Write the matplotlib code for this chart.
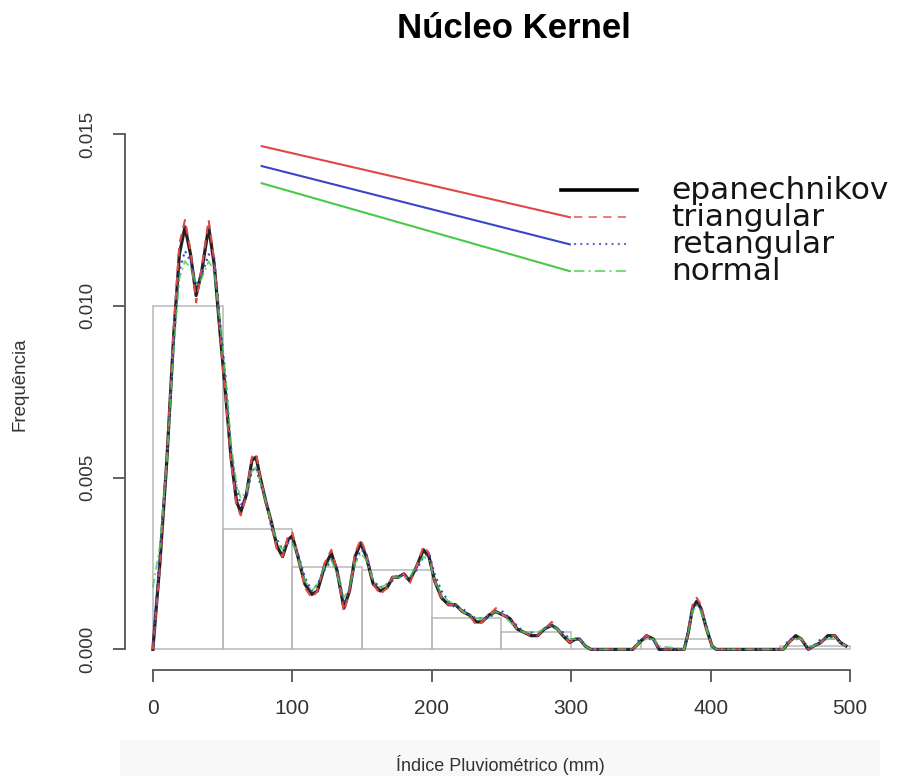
import numpy as np
import matplotlib
matplotlib.use('Agg')
import matplotlib.pyplot as plt
from matplotlib.patches import Rectangle

plt.rcParams['font.family'] = ['Liberation Sans', 'DejaVu Sans']

# histogram (density), bins of 50 mm
bin_edges = [0, 50, 100, 150, 200, 250, 300, 350, 400, 450, 500]
bin_density = [0.0100, 0.0035, 0.0024, 0.0023, 0.0009, 0.0005,
               0.0, 0.0003, 0.0, 0.0001]

# kernel density curves (values x 1e-4)
x_grid = [0, 5, 10, 15, 19, 23, 27, 31, 35, 40, 44, 48, 52, 56, 60, 63, 67,
          71, 74, 77, 81, 85, 89, 93, 97, 100, 104, 109, 114, 118, 123, 128,
          132, 137, 141, 145, 149, 153, 158, 163, 168, 172, 176, 180, 184,
          189, 194, 198, 202, 207, 212, 217, 222, 227, 232, 236, 241, 246,
          251, 256, 261, 266, 271, 276, 281, 286, 290, 294, 299, 303, 306,
          310, 314, 344, 349, 354, 359, 363, 381, 384, 387, 390, 393, 397,
          401, 404, 452, 456, 461, 465, 470, 474, 479, 484, 489, 493, 497]

dens_epan = [0, 25, 55, 92, 115, 123, 115, 103, 110, 123, 112, 93, 75, 56,
             43, 40, 45, 55, 56, 50, 43, 37, 30, 27, 32, 33, 27, 19, 16, 17,
             24, 28, 23, 12, 17, 27, 31, 27, 19, 17, 18, 21, 21, 22, 20, 24,
             29, 27, 20, 15, 13, 13, 11, 10, 8, 8, 10, 11, 10, 9, 6, 5, 4, 4,
             6, 7, 6, 4, 2, 3, 3, 1, 0, 0, 2, 4, 3, 0, 0, 5, 12, 14, 12, 6,
             1, 0, 0, 2, 4, 3, 0, 1, 2, 4, 4, 2, 1]

dens_tri = [0, 24, 56, 94, 118, 125, 116, 101, 111, 125, 113, 93, 74, 55,
            42, 39, 45, 56, 57, 50, 43, 36, 29, 27, 33, 34, 27, 18, 15, 17,
            25, 29, 23, 11, 17, 28, 32, 28, 19, 16, 18, 21, 21, 22, 19, 24,
            30, 28, 20, 15, 13, 13, 11, 10, 7, 8, 10, 12, 10, 9, 6, 5, 4, 4,
            6, 8, 6, 4, 2, 3, 3, 1, 0, 0, 2, 4, 3, 0, 0, 5, 13, 15, 13, 6,
            1, 0, 0, 2, 4, 3, 0, 1, 2, 4, 4, 2, 1]

dens_ret = [2, 28, 55, 90, 110, 116, 113, 106, 109, 115, 114, 96, 80, 58,
            47, 42, 44, 52, 53, 48, 44, 35, 32, 29, 31, 31, 28, 21, 17, 19,
            23, 26, 24, 14, 17, 25, 29, 28, 20, 18, 19, 20, 22, 21, 21, 23,
            27, 28, 22, 17, 14, 12, 12, 10, 9, 9, 9, 11, 11, 9, 7, 5, 5, 4,
            6, 7, 6, 5, 3, 3, 3, 1, 0, 0, 3, 3, 3, 0, 0, 6, 12, 13, 12, 7,
            1, 0, 0, 3, 3, 3, 0, 1, 3, 3, 4, 2, 1]

dens_norm = [18, 30, 55, 88, 108, 113, 111, 106, 108, 113, 110, 96, 80, 60,
             48, 44, 46, 52, 53, 49, 43, 37, 31, 29, 31, 31, 27, 20, 17, 19,
             24, 26, 22, 15, 18, 25, 28, 26, 20, 18, 19, 21, 21, 21, 21, 24,
             27, 26, 20, 16, 14, 13, 11, 10, 9, 9, 10, 11, 10, 8, 6, 5, 5, 5,
             6, 7, 6, 4, 3, 3, 3, 1, 0, 0, 2, 3, 3, 1, 0, 5, 11, 13, 11, 6,
             1, 0, 0, 2, 3, 3, 1, 1, 2, 3, 3, 2, 1]

# the stray slanted lines running into the legend (x, y end points)
slant_x = [78, 299]
slant_red = [0.01465, 0.01258]
slant_blue = [0.01407, 0.01179]
slant_green = [0.01357, 0.01101]

legend_names = ['epanechnikov', 'triangular', 'retangular', 'normal']
legend_y = [0.01337, 0.01258, 0.01179, 0.01101]

red = '#e04848'
blue = '#3a46c8'
green = '#46cc46'

fig = plt.figure(figsize=(9.2, 7.76), dpi=100)
ax = fig.add_axes([125 / 920, 1 - 670 / 776, 753 / 920, 556.5 / 776])

# histogram outline
heights = np.array(bin_density)
edges = np.array(bin_edges)
ax.bar(edges[:-1], heights, width=np.diff(edges), align='edge',
       facecolor='none', edgecolor='#b8b8b8', linewidth=1.1, zorder=1)

xg = np.array(x_grid)
ax.plot(xg, np.array(dens_epan) * 1e-4, color='#222222', lw=2.3, zorder=3)
ax.plot(xg, np.array(dens_tri) * 1e-4, color=red, lw=1.5,
        ls=(0, (4, 3)), zorder=4)
ax.plot(xg, np.array(dens_ret) * 1e-4, color=blue, lw=1.5,
        ls=(0, (1, 2)), zorder=4)
ax.plot(xg, np.array(dens_norm) * 1e-4, color=green, lw=1.3,
        ls=(0, (5, 2, 1, 2)), alpha=0.8, zorder=4)

ax.plot(slant_x, slant_red, color=red, lw=1.5)
ax.plot(slant_x, slant_blue, color=blue, lw=1.5)
ax.plot(slant_x, slant_green, color=green, lw=1.5)

# legend keys and names
ax.plot([293, 347], [legend_y[0]] * 2, color='black', lw=2.6)
ax.plot([302, 339], [legend_y[1]] * 2, color='#e88080', lw=1.5,
        ls=(0, (4, 3)))
ax.plot([302, 339], [legend_y[2]] * 2, color='#6670d0', lw=1.5,
        ls=(0, (1, 2)))
ax.plot([302, 339], [legend_y[3]] * 2, color='#80d880', lw=1.5,
        ls=(0, (5, 2, 1, 2)))
for name, yy in zip(legend_names, legend_y):
    ax.text(372, yy, name, fontsize=22.5, family='DejaVu Sans',
            va='center', ha='left', color='#151515')

ax.set_xlim(-20, 520)
ax.set_ylim(-0.0006, 0.0156)
for side in ['top', 'right']:
    ax.spines[side].set_visible(False)
ax.spines['left'].set_bounds(0, 0.015)
ax.spines['bottom'].set_bounds(0, 500)
for side in ['left', 'bottom']:
    ax.spines[side].set_color('#555555')
    ax.spines[side].set_linewidth(1.3)

ax.set_xticks([0, 100, 200, 300, 400, 500])
ax.set_yticks([0.0, 0.005, 0.010, 0.015])
ax.set_yticklabels(['0.000', '0.005', '0.010', '0.015'])
ax.tick_params(axis='both', length=8.6, width=1.3, color='#555555',
               labelcolor='#333333')
ax.tick_params(axis='x', labelsize=15, pad=12)
ax.tick_params(axis='y', labelsize=13.5, pad=12, labelrotation=90)
for lab in ax.get_yticklabels():
    lab.set_va('center')

fig.text(514 / 920, 1 - 29 / 776, 'Núcleo Kernel', fontsize=25,
         fontweight='bold', ha='center', va='center')
fig.text(20 / 920, 1 - 384 / 776, 'Frequência', fontsize=13.5,
         rotation=90, ha='center', va='center', color='#333333')
fig.patches.append(Rectangle((120 / 920, 0), 760 / 920, 36 / 776,
                             transform=fig.transFigure, facecolor='#f8f8f8',
                             edgecolor='none', zorder=0))
fig.text(500 / 920, 1 - 765 / 776, 'Índice Pluviométrico (mm)',
         fontsize=13, ha='center', va='center', color='#333333')

fig.savefig('out.png', dpi=100)
